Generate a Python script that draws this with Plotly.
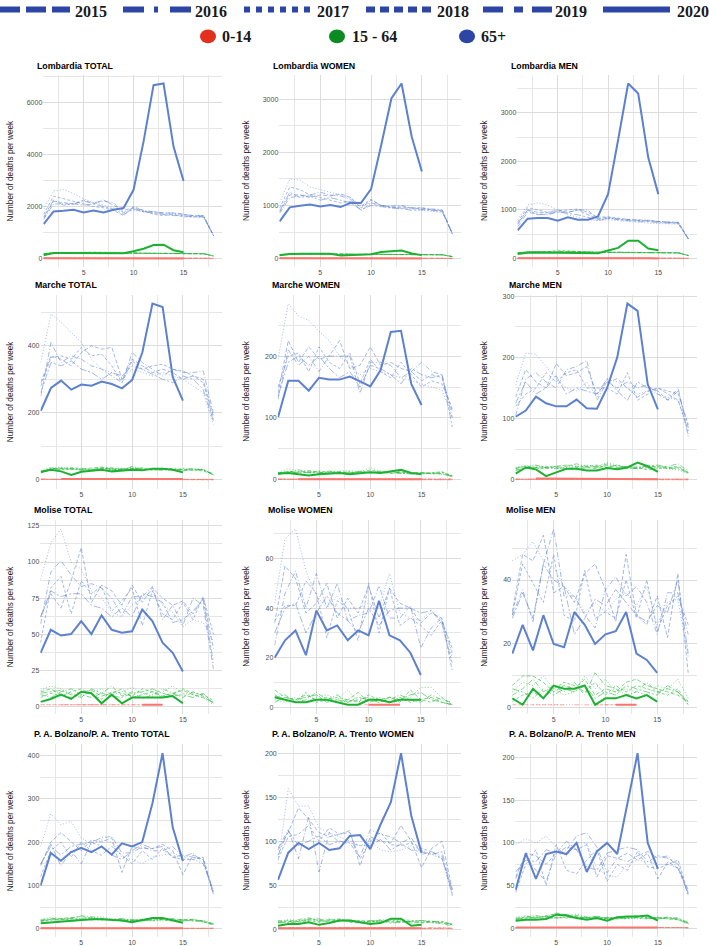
import plotly.graph_objects as go

N = None
WEEKS = list(range(1, 19))
YEARS = [2015, 2016, 2017, 2018, 2019, 2020]
AGE_LABELS = ["0-14", "15 - 64", "65+"]

# ---------------- Lombardia ----------------
LOMB_TOTAL_65 = [
    [1550, 2200, 2150, 2100, 2250, 2100, 2250, 2050, 1850, 1950, 1800, 1800, 1750, 1750, 1700, 1650, 1650, 900],
    [1500, 2100, 2100, 2100, 2200, 2150, 2200, 2150, 1750, 1950, 1850, 1800, 1750, 1750, 1700, 1650, 1650, 880],
    [1900, 2600, 2650, 2500, 2300, 2150, 2050, 1950, 1800, 1850, 1800, 1750, 1700, 1700, 1650, 1600, 1600, 870],
    [1700, 2400, 2300, 2200, 2100, 2000, 1950, 1850, 1650, 2000, 1850, 1700, 1650, 1700, 1600, 1600, 1620, 890],
    [1600, 2250, 2050, 2100, 2050, 2100, 2000, 1900, 1700, 1900, 1800, 1750, 1700, 1650, 1650, 1600, 1600, 880],
    [1328, 1813, 1838, 1877, 1774, 1851, 1774, 1877, 1940, 2643, 4494, 6664, 6728, 4302, 2987],
]
LOMB_TOTAL_1564 = [
    [190, 215, 220, 215, 220, 230, 220, 210, 200, 210, 205, 200, 195, 200, 195, 190, 185, 100],
    [170, 210, 215, 220, 225, 215, 225, 215, 190, 215, 205, 200, 200, 195, 190, 195, 190, 95],
    [200, 240, 235, 230, 225, 220, 215, 205, 195, 210, 200, 195, 200, 190, 190, 185, 190, 105],
    [180, 225, 230, 225, 240, 250, 235, 220, 205, 215, 210, 205, 195, 200, 195, 190, 185, 100],
    [185, 220, 215, 225, 220, 215, 220, 210, 200, 205, 200, 195, 195, 190, 190, 190, 185, 98],
    [128, 217, 215, 212, 215, 212, 205, 210, 205, 280, 380, 520, 535, 320, 240],
]
LOMB_TOTAL_014 = [
    [15, 14, 16, 14, 15, 13, 14, 15, 13, 14, 12, 13, 14, 12, 13, 12, 13, 7],
    [13, 15, 14, 16, 14, 15, 13, 14, 15, 13, 14, 12, 13, 14, 12, 13, 12, 6],
    [14, 16, 15, 14, 13, 14, 15, 13, 14, 12, 13, 14, 12, 13, 14, 12, 12, 7],
    [16, 14, 15, 13, 15, 14, 16, 14, 13, 15, 13, 12, 14, 13, 12, 13, 14, 8],
    [12, 13, 14, 15, 13, 14, 12, 13, 14, 13, 12, 14, 13, 12, 13, 12, 11, 6],
    [10, 11, 10, 9, 10, 9, 10, 9, 8, 9, 8, 7, 8, 7, 6],
]
LOMB_WOMEN_65 = [
    [880, 1200, 1200, 1150, 1200, 1180, 1220, 1150, 950, 1100, 1000, 980, 950, 960, 930, 920, 900, 470],
    [850, 1150, 1180, 1200, 1250, 1200, 1180, 1120, 900, 1050, 1000, 990, 1000, 950, 950, 940, 920, 480],
    [1050, 1500, 1480, 1350, 1300, 1250, 1200, 1150, 1000, 1050, 990, 970, 950, 930, 900, 880, 870, 460],
    [950, 1350, 1300, 1200, 1150, 1100, 1050, 1080, 980, 1120, 1000, 960, 980, 950, 960, 920, 910, 470],
    [900, 1250, 1150, 1180, 1100, 1150, 1100, 1050, 920, 1000, 980, 950, 940, 910, 920, 900, 890, 460],
    [701, 965, 996, 1021, 983, 1008, 971, 1052, 1046, 1309, 2142, 3019, 3300, 2298, 1641],
]
LOMB_WOMEN_1564 = [
    [70, 85, 88, 86, 85, 88, 85, 82, 78, 80, 78, 76, 75, 76, 74, 73, 72, 38],
    [65, 82, 85, 88, 90, 86, 88, 84, 74, 82, 80, 78, 77, 76, 74, 74, 73, 36],
    [75, 92, 90, 88, 86, 84, 82, 80, 76, 80, 78, 76, 74, 75, 72, 72, 70, 35],
    [70, 88, 90, 86, 90, 92, 88, 84, 78, 82, 80, 78, 76, 75, 74, 72, 72, 37],
    [72, 86, 85, 87, 86, 84, 86, 82, 77, 80, 78, 77, 76, 74, 74, 73, 71, 36],
    [63, 88, 92, 90, 88, 92, 60, 68, 72, 80, 125, 140, 150, 95, 65],
]
LOMB_WOMEN_014 = [
    [7, 6, 8, 7, 7, 6, 7, 8, 6, 7, 6, 6, 7, 6, 6, 5, 6, 3],
    [6, 7, 7, 8, 6, 7, 6, 7, 7, 6, 7, 6, 6, 7, 5, 6, 6, 3],
    [7, 8, 7, 6, 6, 7, 7, 6, 7, 6, 6, 7, 5, 6, 7, 6, 5, 4],
    [8, 7, 7, 6, 7, 7, 8, 6, 6, 7, 6, 5, 7, 6, 6, 6, 7, 4],
    [6, 6, 7, 7, 6, 7, 5, 6, 7, 6, 6, 7, 6, 5, 6, 6, 5, 3],
    [5, 5, 4, 4, 5, 4, 5, 4, 4, 4, 3, 3, 4, 3, 3],
]
LOMB_MEN_65 = [
    [700, 1000, 950, 950, 1000, 950, 1000, 900, 820, 850, 800, 790, 800, 780, 760, 740, 730, 400],
    [650, 950, 920, 900, 960, 950, 1000, 1000, 800, 830, 820, 800, 790, 770, 760, 750, 740, 410],
    [800, 1100, 1150, 1100, 1000, 900, 850, 800, 780, 800, 780, 760, 740, 730, 720, 720, 710, 390],
    [750, 1050, 1000, 950, 980, 1000, 1020, 950, 850, 860, 830, 810, 780, 790, 760, 750, 750, 405],
    [720, 1000, 900, 920, 960, 930, 900, 850, 780, 830, 800, 780, 760, 760, 740, 730, 720, 395],
    [581, 820, 834, 834, 779, 847, 800, 800, 868, 1326, 2440, 3602, 3397, 2078, 1326],
]
LOMB_MEN_1564 = [
    [115, 135, 138, 135, 140, 145, 140, 135, 125, 130, 128, 125, 122, 124, 122, 120, 118, 62],
    [110, 130, 134, 138, 142, 138, 140, 136, 118, 132, 128, 126, 124, 122, 120, 121, 119, 60],
    [120, 145, 142, 140, 138, 136, 132, 128, 120, 128, 124, 122, 125, 118, 118, 116, 118, 66],
    [112, 138, 140, 138, 170, 155, 146, 138, 126, 132, 128, 126, 120, 124, 120, 118, 116, 62],
    [115, 136, 134, 138, 136, 132, 136, 130, 124, 126, 124, 120, 120, 118, 118, 118, 116, 61],
    [96, 120, 125, 122, 125, 122, 128, 122, 110, 164, 219, 369, 368, 205, 171],
]
LOMB_MEN_014 = [
    [8, 8, 8, 7, 8, 7, 7, 7, 7, 7, 6, 7, 7, 6, 7, 7, 7, 4],
    [7, 8, 7, 8, 8, 8, 7, 7, 8, 7, 7, 6, 7, 7, 7, 7, 6, 3],
    [7, 8, 8, 8, 7, 7, 8, 7, 7, 6, 7, 7, 7, 7, 7, 6, 7, 3],
    [8, 7, 8, 7, 8, 7, 8, 8, 7, 8, 7, 7, 7, 7, 6, 7, 7, 4],
    [6, 7, 7, 8, 7, 7, 7, 7, 7, 7, 6, 7, 7, 7, 7, 6, 6, 3],
    [5, 6, 6, 5, 5, 5, 5, 5, 4, 5, 5, 4, 4, 4, 3],
]

# ---------------- Marche ----------------
MARC_TOTAL_65 = [
    [290, 370, 360, 340, 380, 400, 390, 395, 300, 360, 340, 320, 330, 320, 300, 310, 300, 190],
    [250, 410, 350, 370, 360, 340, 330, 310, 290, 380, 350, 330, 310, 330, 320, 320, 325, 200],
    [350, 495, 470, 440, 410, 360, 330, 320, 300, 330, 320, 310, 320, 310, 300, 280, 260, 165],
    [280, 365, 370, 360, 395, 370, 375, 340, 290, 355, 330, 340, 345, 330, 325, 310, 290, 180],
    [260, 350, 340, 355, 330, 320, 300, 320, 310, 340, 330, 315, 300, 290, 310, 300, 270, 175],
    [206, 274, 296, 269, 284, 281, 293, 286, 273, 298, 380, 526, 516, 306, 236],
]
MARC_TOTAL_1564 = [
    [25, 32, 35, 30, 32, 35, 38, 32, 30, 35, 33, 30, 32, 30, 32, 28, 30, 16],
    [20, 35, 32, 34, 30, 28, 36, 34, 28, 40, 32, 30, 28, 32, 30, 34, 28, 18],
    [28, 38, 36, 34, 32, 30, 34, 30, 32, 36, 28, 34, 30, 28, 34, 30, 32, 15],
    [22, 30, 34, 36, 34, 30, 32, 36, 30, 34, 36, 28, 32, 34, 28, 30, 26, 17],
    [24, 34, 30, 32, 28, 32, 34, 30, 34, 32, 30, 32, 34, 30, 26, 32, 30, 14],
    [23, 30, 25, 14, 24, 28, 30, 25, 28, 30, 28, 33, 33, 30, 22],
]
MARC_TOTAL_014 = [
    [1, 1, 2, 1, 2, 1, 2, 1, 1, 2, 1, 2, 1, 1, 2, 1, 1, 1],
    [2, 1, 1, 2, 1, 2, 1, 1, 2, 1, 1, 1, 2, 1, 1, 2, 1, 0],
    [1, 2, 1, 1, 1, 1, 2, 2, 1, 1, 2, 1, 1, 2, 1, 1, 2, 1],
    [1, 1, 1, 2, 1, 1, 1, 2, 1, 2, 1, 1, 1, 1, 2, 1, 1, 0],
    [2, 1, 2, 1, 1, 2, 1, 1, 1, 1, 2, 1, 2, 1, 1, 1, 1, 1],
    [N, N, 2, 2, 2, 2, 3, 2, 2, 3, 2, 2, 3, 2, 2],
]
MARC_WOMEN_65 = [
    [140, 225, 190, 215, 195, 200, 225, 180, 185, 215, 185, 190, 180, 175, 160, 170, 165, 110],
    [130, 210, 185, 200, 175, 200, 200, 200, 140, 190, 190, 185, 165, 175, 190, 175, 170, 100],
    [195, 285, 265, 258, 240, 225, 200, 185, 170, 180, 175, 170, 165, 160, 155, 150, 145, 100],
    [150, 200, 205, 175, 215, 190, 180, 205, 155, 195, 175, 165, 190, 170, 150, 160, 155, 115],
    [135, 190, 200, 185, 200, 180, 165, 175, 150, 185, 180, 170, 155, 180, 170, 165, 170, 85],
    [101, 160, 160, 144, 165, 162, 162, 167, 159, 151, 177, 239, 241, 155, 121],
]
MARC_WOMEN_1564 = [
    [10, 14, 12, 15, 12, 10, 13, 12, 11, 16, 12, 10, 13, 11, 12, 10, 9, 6],
    [8, 12, 16, 13, 11, 14, 12, 10, 13, 12, 14, 11, 10, 12, 9, 11, 10, 5],
    [12, 18, 14, 12, 13, 11, 14, 15, 12, 20, 13, 12, 11, 10, 12, 9, 11, 7],
    [9, 11, 13, 11, 14, 12, 10, 13, 10, 12, 11, 14, 12, 11, 10, 12, 13, 6],
    [11, 13, 11, 12, 10, 13, 12, 11, 14, 11, 12, 13, 11, 9, 11, 10, 12, 5],
    [10, 11, 9, 7, 9, 10, 11, 9, 11, 12, 11, 13, 16, 11, 9],
]
MARC_WOMEN_014 = [
    [1, 1, 1, 0, 1, 1, 1, 1, 1, 1, 1, 0, 1, 1, 1, 1, 1, 0],
    [1, 0, 1, 1, 1, 1, 0, 1, 1, 1, 1, 1, 1, 0, 1, 1, 1, 1],
    [0, 1, 1, 1, 1, 0, 1, 1, 1, 1, 0, 1, 1, 1, 1, 1, 0, 1],
    [1, 1, 0, 1, 1, 1, 1, 1, 0, 1, 1, 1, 1, 1, 1, 0, 1, 1],
    [1, 1, 1, 1, 0, 1, 1, 1, 1, 1, 1, 1, 0, 1, 1, 1, 1, 0],
    [N, N, 1, 1, 1, 1, 1, 1, 1, 1, 1, 1, 1, 1, 1],
]
MARC_MEN_65 = [
    [135, 180, 160, 150, 190, 170, 175, 185, 140, 160, 165, 150, 135, 145, 150, 140, 130, 80],
    [105, 165, 175, 160, 150, 180, 185, 195, 130, 160, 150, 160, 150, 155, 140, 130, 150, 70],
    [155, 207, 205, 185, 165, 150, 145, 160, 135, 165, 160, 150, 140, 145, 140, 135, 130, 75],
    [120, 140, 150, 175, 160, 175, 180, 150, 150, 150, 140, 175, 130, 140, 150, 145, 140, 90],
    [125, 160, 140, 150, 170, 140, 150, 145, 140, 165, 145, 130, 160, 150, 145, 130, 145, 85],
    [103, 113, 136, 125, 120, 120, 131, 117, 116, 150, 200, 288, 276, 156, 115],
]
MARC_MEN_1564 = [
    [18, 22, 20, 18, 22, 24, 22, 20, 18, 24, 20, 22, 18, 20, 22, 18, 20, 12],
    [15, 20, 24, 20, 18, 22, 26, 22, 20, 26, 22, 20, 18, 24, 20, 22, 26, 14],
    [20, 24, 22, 20, 18, 20, 22, 24, 22, 28, 24, 20, 22, 18, 20, 18, 16, 10],
    [16, 18, 20, 22, 20, 18, 20, 22, 24, 20, 18, 22, 20, 16, 18, 20, 22, 12],
    [19, 22, 18, 20, 22, 18, 16, 20, 22, 20, 24, 18, 20, 22, 24, 20, 18, 11],
    [10, 20, 17, 6, 12, 18, 18, 15, 15, 19, 17, 20, 28, 22, 13],
]
MARC_MEN_014 = [
    [1, 1, 1, 1, 0, 1, 1, 1, 1, 1, 0, 1, 1, 1, 1, 1, 1, 0],
    [1, 0, 1, 1, 1, 1, 1, 0, 1, 1, 1, 1, 0, 1, 1, 1, 0, 1],
    [1, 1, 1, 0, 1, 1, 1, 1, 1, 0, 1, 1, 1, 1, 0, 1, 1, 1],
    [0, 1, 1, 1, 1, 0, 1, 1, 1, 1, 1, 0, 1, 1, 1, 1, 1, 0],
    [1, 1, 0, 1, 1, 1, 1, 1, 0, 1, 1, 1, 1, 0, 1, 1, 1, 1],
    [N, N, 2, 2, 2, 2, 2, 1, 1, 1, 1, 1, 1, 1, 1],
]

# ---------------- Molise ----------------
MOLI_TOTAL_65 = [
    [62, 78, 68, 87, 110, 72, 84, 80, 70, 84, 72, 82, 75, 70, 73, 64, 75, 40],
    [57, 93, 101, 91, 83, 85, 82, 75, 63, 76, 76, 83, 60, 70, 56, 75, 70, 26],
    [88, 113, 123, 100, 95, 80, 75, 65, 62, 70, 75, 80, 70, 65, 55, 60, 58, 45],
    [44, 82, 90, 64, 87, 78, 83, 66, 73, 82, 56, 80, 64, 60, 72, 60, 76, 50],
    [62, 80, 76, 78, 78, 70, 68, 62, 68, 62, 78, 76, 72, 58, 60, 66, 74, 30],
    [37, 53, 49, 50, 59, 50, 63, 53, 51, 52, 67, 59, 44, 37, 24],
]
MOLI_TOTAL_1564 = [
    [10, 12, 8, 6, 10, 11, 7, 9, 12, 6, 8, 10, 7, 9, 11, 8, 6, 3],
    [8, 6, 10, 12, 8, 6, 9, 14, 7, 10, 5, 8, 12, 9, 6, 10, 7, 2],
    [11, 14, 12, 9, 7, 10, 12, 8, 10, 13, 9, 7, 10, 14, 9, 8, 6, 1],
    [6, 9, 7, 10, 12, 8, 5, 10, 9, 7, 12, 10, 6, 8, 12, 9, 8, 4],
    [9, 10, 11, 8, 6, 12, 9, 7, 6, 9, 10, 12, 9, 7, 8, 6, 9, 2],
    [3, 5, 8, 5, 10, 9, 2, 8, 2, 6, 6, 6, 6, 7, 2],
]
MOLI_TOTAL_014 = [
    [1, 1, 1, 1, 1, 1, 1, N, N, N, N, N, N, N, N, N, N, N],
    [N, N, N, N, 1, 1, 1, 1, 1, 1, 1, 1, 1, N, N, N, N, N],
    [1, 1, 1, 1, N, N, N, N, N, N, N, N, N, N, N, N, N, N],
    [N, N, N, N, N, N, N, 1, 1, 1, 1, N, N, N, N, N, N, N],
    [N, N, 1, 1, 1, 1, 1, 1, N, N, N, N, N, N, N, N, N, N],
    [N, N, N, N, N, N, N, N, N, N, 1, 1, 1, N, N],
]
MOLI_WOMEN_65 = [
    [34, 57, 52, 38, 42, 50, 36, 44, 38, 49, 36, 48, 42, 40, 34, 38, 36, 15],
    [25, 46, 55, 40, 54, 40, 50, 35, 37, 38, 49, 36, 36, 41, 24, 32, 36, 22],
    [42, 68, 72, 55, 45, 40, 45, 40, 40, 42, 40, 54, 38, 36, 35, 39, 35, 20],
    [35, 41, 41, 51, 46, 28, 43, 40, 27, 50, 30, 48, 33, 36, 33, 29, 35, 24],
    [30, 40, 42, 30, 38, 45, 38, 35, 30, 40, 33, 39, 40, 40, 38, 39, 34, 18],
    [20, 27, 31, 21, 39, 31, 33, 27, 31, 29, 43, 29, 27, 22, 13],
]
MOLI_WOMEN_1564 = [
    [7, 4, 3, 5, 3, 4, 2, 3, 6, 2, 3, 4, 2, 7, 3, 4, 2, 1],
    [4, 5, 2, 3, 6, 3, 5, 2, 3, 4, 2, 3, 5, 3, 2, 5, 3, 2],
    [3, 2, 4, 2, 4, 5, 3, 7, 2, 3, 4, 2, 3, 4, 8, 8, 4, 1],
    [5, 3, 2, 6, 2, 3, 4, 3, 2, 5, 3, 2, 4, 2, 3, 2, 4, 1],
    [2, 4, 3, 4, 5, 2, 3, 2, 4, 3, 2, 4, 3, 5, 6, 3, 2, 1],
    [4, 3, 2, 2, 3, 3, 2, 1, 1, 3, 3, 2, 3, 3, 3],
]
MOLI_WOMEN_014 = [
    [N, N, N, N, N, N, N, N, 1, 1, 1, N, N, N, N, N, N, N],
    [N, N, N, N, N, N, N, N, N, 1, 1, 1, 1, N, N, N, N, N],
    [N, N, N, N, N, N, N, N, N, N, N, N, N, N, N, N, N, N],
    [N, N, N, N, N, N, N, N, N, N, N, N, N, N, N, N, N, N],
    [N, N, N, N, N, N, N, N, N, N, N, N, N, N, N, N, N, N],
    [N, N, N, N, N, N, N, N, N, 1, 1, 1, 1, N, N],
]
MOLI_MEN_65 = [
    [30, 48, 46, 54, 36, 38, 33, 42, 45, 37, 27, 48, 29, 26, 35, 22, 42, 11],
    [29, 37, 27, 45, 56, 35, 35, 29, 25, 37, 41, 35, 38, 33, 23, 36, 36, 23],
    [46, 48, 52, 46, 44, 38, 35, 30, 33, 30, 34, 36, 32, 38, 26, 33, 34, 16],
    [29, 45, 39, 33, 48, 29, 27, 43, 28, 30, 28, 40, 28, 40, 24, 32, 35, 26],
    [28, 36, 28, 45, 40, 38, 23, 28, 34, 32, 37, 33, 29, 27, 32, 30, 40, 17],
    [17, 26, 18, 29, 20, 19, 30, 26, 20, 23, 24, 30, 17, 15, 11],
]
MOLI_MEN_1564 = [
    [7, 10, 10, 8, 5, 7, 6, 9, 4, 6, 5, 8, 9, 7, 6, 5, 4, 2],
    [4, 6, 9, 5, 7, 5, 8, 4, 11, 7, 6, 4, 5, 8, 5, 6, 5, 1],
    [5, 8, 7, 10, 6, 4, 5, 10, 6, 9, 5, 6, 5, 4, 7, 6, 9, 3],
    [2, 4, 5, 3, 6, 8, 7, 5, 8, 4, 7, 5, 7, 6, 5, 4, 6, 1],
    [6, 5, 3, 6, 4, 6, 5, 7, 3, 5, 4, 7, 6, 5, 4, 7, 5, 2],
    [3, 1, 6, 3, 7, 6, 6, 7, 1, 3, 3, 4, 3, 4, 2],
]
MOLI_MEN_014 = [
    [1, 1, 1, 1, 1, 1, N, N, N, N, N, N, N, N, N, N, N, N],
    [N, N, N, N, N, N, 1, 1, 1, 1, 1, 1, 1, N, N, N, N, N],
    [N, N, 1, 1, 1, 1, 1, N, N, N, N, N, N, N, N, N, N, N],
    [N, N, N, N, N, N, N, N, 1, 1, 1, 1, N, N, N, N, N, N],
    [N, N, N, N, N, N, N, N, N, N, N, N, N, N, N, N, N, N],
    [N, N, N, N, N, N, N, N, N, N, 1, 1, 1, N, N],
]

# ---------------- P. A. Bolzano / P. A. Trento ----------------
BOTR_TOTAL_65 = [
    [145, 200, 222, 200, 180, 205, 200, 210, 130, 190, 185, 185, 195, 180, 125, 170, 160, 80],
    [148, 195, 145, 180, 150, 200, 210, 213, 175, 175, 190, 180, 180, 190, 165, 175, 150, 90],
    [190, 265, 240, 248, 210, 195, 205, 200, 165, 160, 150, 165, 170, 175, 165, 160, 150, 85],
    [120, 180, 200, 165, 200, 180, 170, 190, 170, 150, 180, 160, 185, 165, 160, 160, 165, 85],
    [150, 190, 170, 190, 195, 200, 190, 170, 160, 180, 195, 185, 190, 165, 170, 165, 160, 80],
    [100, 175, 157, 177, 187, 177, 190, 171, 197, 190, 200, 289, 405, 234, 156],
]
BOTR_TOTAL_1564 = [
    [18, 22, 24, 26, 28, 25, 22, 20, 22, 18, 20, 22, 24, 20, 22, 18, 16, 10],
    [20, 24, 22, 24, 30, 28, 24, 22, 20, 22, 18, 20, 22, 24, 20, 22, 18, 12],
    [22, 26, 24, 22, 24, 26, 28, 22, 20, 18, 22, 20, 18, 22, 20, 18, 20, 11],
    [16, 20, 22, 20, 22, 20, 24, 20, 18, 20, 22, 24, 20, 18, 20, 22, 16, 9],
    [19, 21, 20, 24, 22, 24, 20, 22, 24, 19, 20, 18, 22, 20, 18, 20, 18, 10],
    [13, 15, 16, 19, 21, 22, 22, 20, 19, 15, 20, 25, 25, 20, 14],
]
BOTR_TOTAL_014 = [
    [1, 2, 1, 1, 2, 1, 1, 2, 1, 1, 1, 2, 1, 1, 2, 1, 1, 1],
    [2, 1, 1, 2, 1, 1, 2, 1, 1, 2, 1, 1, 1, 2, 1, 1, 2, 1],
    [1, 1, 2, 1, 1, 2, 1, 1, 2, 1, 1, 1, 2, 1, 1, 2, 1, 1],
    [1, 2, 1, 1, 1, 1, 2, 1, 1, 1, 2, 1, 1, 1, 1, 1, 1, 1],
    [2, 1, 1, 1, 2, 1, 1, 1, 1, 2, 1, 1, 2, 1, 1, 1, 1, 1],
    [1, 1, 2, 1, 1, 2, 1, 1, 1, 2, 1, 1, 1, 1, 1],
]
BOTR_WOMEN_65 = [
    [90, 110, 138, 125, 110, 105, 108, 112, 72, 105, 100, 98, 118, 100, 70, 92, 100, 45],
    [92, 113, 80, 128, 65, 110, 98, 98, 82, 113, 108, 105, 98, 104, 85, 88, 83, 38],
    [75, 160, 140, 140, 115, 110, 105, 100, 95, 100, 90, 88, 90, 95, 90, 85, 80, 40],
    [80, 105, 108, 118, 100, 115, 108, 110, 80, 100, 110, 96, 95, 98, 92, 88, 80, 45],
    [84, 112, 95, 100, 106, 96, 100, 98, 95, 95, 102, 90, 97, 90, 88, 85, 88, 40],
    [56, 87, 98, 91, 98, 90, 92, 106, 107, 91, 119, 144, 200, 129, 87],
]
BOTR_WOMEN_1564 = [
    [8, 10, 9, 12, 10, 9, 11, 8, 7, 9, 10, 8, 9, 7, 8, 9, 7, 5],
    [10, 8, 11, 13, 9, 11, 10, 9, 8, 7, 11, 10, 8, 9, 10, 8, 6, 4],
    [9, 11, 10, 9, 11, 12, 9, 10, 9, 8, 9, 11, 10, 8, 9, 7, 8, 6],
    [7, 9, 8, 10, 8, 10, 12, 9, 10, 9, 8, 9, 11, 10, 7, 8, 9, 5],
    [8, 7, 9, 11, 12, 8, 9, 11, 8, 10, 9, 7, 8, 9, 10, 9, 8, 6],
    [4, 6, 6, 8, 5, 7, 10, 10, 8, 6, 7, 12, 12, 4, 5],
]
BOTR_WOMEN_014 = [
    [1, 1, 2, 1, 1, 1, 2, 1, 1, 1, 1, 1, 2, 1, 1, 1, 1, 1],
    [1, 2, 1, 1, 2, 1, 1, 1, 1, 1, 2, 1, 1, 1, 1, 2, 1, 1],
    [2, 1, 1, 1, 1, 2, 1, 1, 1, 2, 1, 1, 1, 1, 1, 1, 1, 1],
    [1, 1, 1, 2, 1, 1, 1, 1, 2, 1, 1, 1, 1, 2, 1, 1, 2, 1],
    [1, 1, 1, 1, 1, 1, 1, 2, 1, 1, 1, 2, 1, 1, 1, 1, 1, 1],
    [1, 1, 1, 1, 1, 1, 1, 1, 1, 1, 1, 1, 1, 1, 1],
]
BOTR_MEN_65 = [
    [60, 88, 85, 75, 88, 95, 92, 98, 60, 85, 82, 88, 80, 88, 58, 78, 70, 40],
    [58, 85, 68, 55, 88, 92, 108, 112, 95, 65, 82, 78, 85, 90, 82, 85, 70, 45],
    [98, 105, 100, 108, 95, 85, 100, 100, 70, 62, 60, 75, 80, 78, 75, 75, 70, 42],
    [42, 75, 92, 50, 98, 68, 64, 80, 92, 55, 75, 68, 90, 72, 70, 75, 80, 40],
    [66, 80, 78, 92, 88, 102, 92, 72, 68, 88, 92, 95, 92, 78, 85, 82, 75, 38],
    [45, 88, 58, 87, 90, 87, 100, 66, 90, 100, 87, 145, 205, 100, 70],
]
BOTR_MEN_1564 = [
    [10, 14, 12, 15, 17, 16, 13, 12, 14, 11, 12, 13, 15, 12, 13, 11, 10, 6],
    [12, 13, 15, 13, 18, 16, 15, 13, 12, 13, 11, 12, 14, 15, 12, 13, 12, 7],
    [13, 15, 14, 13, 12, 14, 17, 13, 12, 11, 13, 12, 11, 13, 12, 11, 12, 6],
    [9, 12, 13, 11, 13, 12, 14, 12, 11, 12, 13, 14, 12, 11, 12, 13, 10, 5],
    [11, 12, 12, 14, 12, 13, 12, 13, 14, 12, 12, 11, 13, 12, 11, 12, 11, 6],
    [9, 10, 10, 11, 16, 15, 12, 10, 12, 9, 13, 14, 14, 15, 9],
]
BOTR_MEN_014 = [
    [1, 1, 1, 1, 1, 1, 1, 1, 1, 1, 1, 1, 1, 1, 1, 1, 1, 1],
    [1, 1, 1, 1, 1, 1, 1, 1, 1, 1, 1, 1, 1, 1, 1, 1, 1, 0],
    [0, 1, 1, 1, 1, 1, 1, 1, 1, 1, 1, 1, 1, 1, 1, 1, 1, 1],
    [1, 1, 1, 1, 1, 1, 1, 1, 1, 1, 1, 1, 1, 1, 1, 1, 1, 1],
    [1, 1, 1, 1, 1, 1, 1, 1, 1, 1, 1, 1, 1, 1, 1, 1, 1, 1],
    [1, 1, 1, 1, 1, 1, 1, 1, 1, 1, 1, 1, 1, 1, 1],
]

PANEL_TITLES = [
    "Lombardia TOTAL", "Lombardia WOMEN", "Lombardia MEN",
    "Marche TOTAL", "Marche WOMEN", "Marche MEN",
    "Molise TOTAL", "Molise WOMEN", "Molise MEN",
    "P. A. Bolzano/P. A. Trento TOTAL", "P. A. Bolzano/P. A. Trento WOMEN", "P. A. Bolzano/P. A. Trento MEN",
]
PANEL_DATA = [
    (LOMB_TOTAL_014, LOMB_TOTAL_1564, LOMB_TOTAL_65),
    (LOMB_WOMEN_014, LOMB_WOMEN_1564, LOMB_WOMEN_65),
    (LOMB_MEN_014, LOMB_MEN_1564, LOMB_MEN_65),
    (MARC_TOTAL_014, MARC_TOTAL_1564, MARC_TOTAL_65),
    (MARC_WOMEN_014, MARC_WOMEN_1564, MARC_WOMEN_65),
    (MARC_MEN_014, MARC_MEN_1564, MARC_MEN_65),
    (MOLI_TOTAL_014, MOLI_TOTAL_1564, MOLI_TOTAL_65),
    (MOLI_WOMEN_014, MOLI_WOMEN_1564, MOLI_WOMEN_65),
    (MOLI_MEN_014, MOLI_MEN_1564, MOLI_MEN_65),
    (BOTR_TOTAL_014, BOTR_TOTAL_1564, BOTR_TOTAL_65),
    (BOTR_WOMEN_014, BOTR_WOMEN_1564, BOTR_WOMEN_65),
    (BOTR_MEN_014, BOTR_MEN_1564, BOTR_MEN_65),
]
Y_DTICK = [2000, 1000, 1000, 200, 100, 100, 25, 20, 20, 100, 50, 50]
X_TICKS = [5, 10, 15]

# ---------------- styling / geometry ----------------
W, H = 709, 946
ROW_PX = [(73, 266), (293.7, 488.1), (519.7, 713.8), (744.8, 938.1)]
LEFT_PX = [[43.3, 279.3, 517.3], [40.5, 277.7, 515.3], [40.3, 274.3, 512.0], [40.3, 277.7, 515.3]]
RIGHT_PX = [222, 461, 697]
TITLE_Y = [64, 284, 509.3, 734.3]
YTITLE_X = [10.5, 247, 485]

AGE_RGB = {"0-14": (248, 118, 109), "15 - 64": (29, 177, 51), "65+": (93, 129, 207)}
PANEL_DASH = {2015: "4px,2px", 2016: "5px,2px,1px,2px", 2017: "1px,2px",
              2018: "3px,2px", 2019: "7px,2px,2px,2px", 2020: "solid"}
GRID = "#DCDCDC"
GRID_MINOR = "#E6E6E6"
TXT_FONT = "Liberation Sans, Arial, sans-serif"


def px_x(p):
    return p / W


def px_y(p):
    return 1 - p / H


fig = go.Figure()
annotations = []
shapes = []

for i, (title, series) in enumerate(zip(PANEL_TITLES, PANEL_DATA)):
    r, c = divmod(i, 3)
    sfx = "" if i == 0 else str(i + 1)
    xref, yref = "x" + sfx, "y" + sfx
    allvals = []
    for yi, year in enumerate(YEARS):
        for data in series:
            allvals += [v for v in data[yi] if v is not None]
    order = [(yi, year) for yi, year in enumerate(YEARS) if year != 2020] + [(5, 2020)]
    for yi, year in order:
        for age in ["65+", "15 - 64", "0-14"]:
            data = series[AGE_LABELS.index(age)]
            vals = data[yi]
            rr, gg, bb = AGE_RGB[age]
            if year == 2020:
                color = f"rgb({rr},{gg},{bb})"
                width = 2.0
            else:
                color = f"rgba({rr},{gg},{bb},0.62)"
                width = 0.9
            fig.add_trace(go.Scatter(
                x=WEEKS[:len(vals)], y=vals, mode="lines",
                line=dict(color=color, width=width, dash=PANEL_DASH[year]),
                xaxis=xref, yaxis=yref, showlegend=False, hoverinfo="skip",
                connectgaps=False,
            ))
    lo, hi = min(allvals), max(allvals)
    pad = (hi - lo) * 0.05
    y0px, y1px = ROW_PX[r]
    dom_x = [px_x(LEFT_PX[r][c]), px_x(RIGHT_PX[c])]
    dom_y = [px_y(y1px), px_y(y0px)]
    d = Y_DTICK[i]
    yticks = [k * d for k in range(0, int((hi + pad) // d) + 1)]
    fig.layout["xaxis" + sfx] = dict(
        domain=dom_x, anchor=yref, range=[0.97, 18.85],
        tickmode="array", tickvals=X_TICKS, ticktext=[str(t) for t in X_TICKS],
        showgrid=True, gridcolor=GRID, gridwidth=1,
        minor=dict(tick0=0, dtick=2.5, showgrid=True, gridcolor=GRID_MINOR, gridwidth=1),
        zeroline=False, showline=False, ticks="",
        ticklabeloverflow="allow",
        tickfont=dict(family=TXT_FONT, size=7, color="#4D4D4D"),
    )
    fig.layout["yaxis" + sfx] = dict(
        domain=dom_y, anchor=xref, range=[lo - pad, hi + pad],
        tickmode="array", tickvals=yticks, ticktext=[str(t) for t in yticks],
        showgrid=True, gridcolor=GRID, gridwidth=1,
        minor=dict(tick0=0, dtick=d / 2, showgrid=True, gridcolor=GRID_MINOR, gridwidth=1),
        zeroline=False, showline=False, ticks="",
        ticklabeloverflow="allow",
        tickfont=dict(family=TXT_FONT, size=7, color="#4D4D4D"),
    )
    annotations.append(dict(
        text=title, xref="paper", yref="paper",
        x=px_x(LEFT_PX[r][c] - 8), y=px_y(TITLE_Y[r]),
        xanchor="left", yanchor="middle", showarrow=False,
        font=dict(family=TXT_FONT, size=8.8, color="#000000", weight="bold"),
    ))
    annotations.append(dict(
        text="Number of deaths per week", xref="paper", yref="paper",
        x=px_x(YTITLE_X[c]), y=px_y((y0px + y1px) / 2),
        xanchor="center", yanchor="middle", textangle=-90, showarrow=False,
        font=dict(family=TXT_FONT, size=8.2, color="#222222"),
    ))

# ---------------- custom legend (top) ----------------
LEG_BLUE = "#2D46A6"
LEG_FONT = dict(family="Liberation Serif, Times New Roman, serif", size=16,
                color="#1A1A1A", weight="bold")
YEAR_SAMPLE_PX = [(0, 70), (123, 191), (244, 312), (366, 431), (483, 552), (603, 670)]
YEAR_TEXT_PX = [74, 194, 316, 436, 554, 676]
YEAR_LEG_DASH = ["20px,6px", "21px,10px,4px,12px", "6px,6px", "9px,5px", "20px,11px,9px,9px", "solid"]
for year, (sx0, sx1), tx, dsh in zip(YEARS, YEAR_SAMPLE_PX, YEAR_TEXT_PX, YEAR_LEG_DASH):
    shapes.append(dict(type="line", xref="paper", yref="paper",
                       x0=px_x(sx0), x1=px_x(sx1), y0=px_y(7.5), y1=px_y(7.5),
                       line=dict(color=LEG_BLUE, width=6, dash=dsh)))
    annotations.append(dict(text=str(year), xref="paper", yref="paper",
                            x=px_x(tx), y=1.0, xanchor="left", yanchor="top",
                            borderpad=0, showarrow=False, font=LEG_FONT))

AGE_LEG_COLORS = ["#E2301F", "#0B8B22", "#2D46A6"]
AGE_DOT_PX = [208, 337, 467]
AGE_TEXT_PX = [220, 350, 479.5]
for lab, col, cx, tx in zip(AGE_LABELS, AGE_LEG_COLORS, AGE_DOT_PX, AGE_TEXT_PX):
    shapes.append(dict(type="circle", xref="paper", yref="paper",
                       x0=px_x(cx - 8), x1=px_x(cx + 8), y0=px_y(41.5), y1=px_y(27.5),
                       fillcolor=col, line=dict(color=col, width=0)))
    annotations.append(dict(text=lab, xref="paper", yref="paper",
                            x=px_x(tx), y=px_y(35), xanchor="left", yanchor="middle",
                            showarrow=False, font=LEG_FONT))

fig.update_layout(
    width=W, height=H,
    margin=dict(l=0, r=0, t=0, b=0),
    paper_bgcolor="white", plot_bgcolor="white",
    annotations=annotations, shapes=shapes,
    showlegend=False,
)

fig.write_html(
    "out.html",
    config={"displayModeBar": False},
    post_script="document.body.style.margin='0px';document.body.style.padding='0px';",
)
